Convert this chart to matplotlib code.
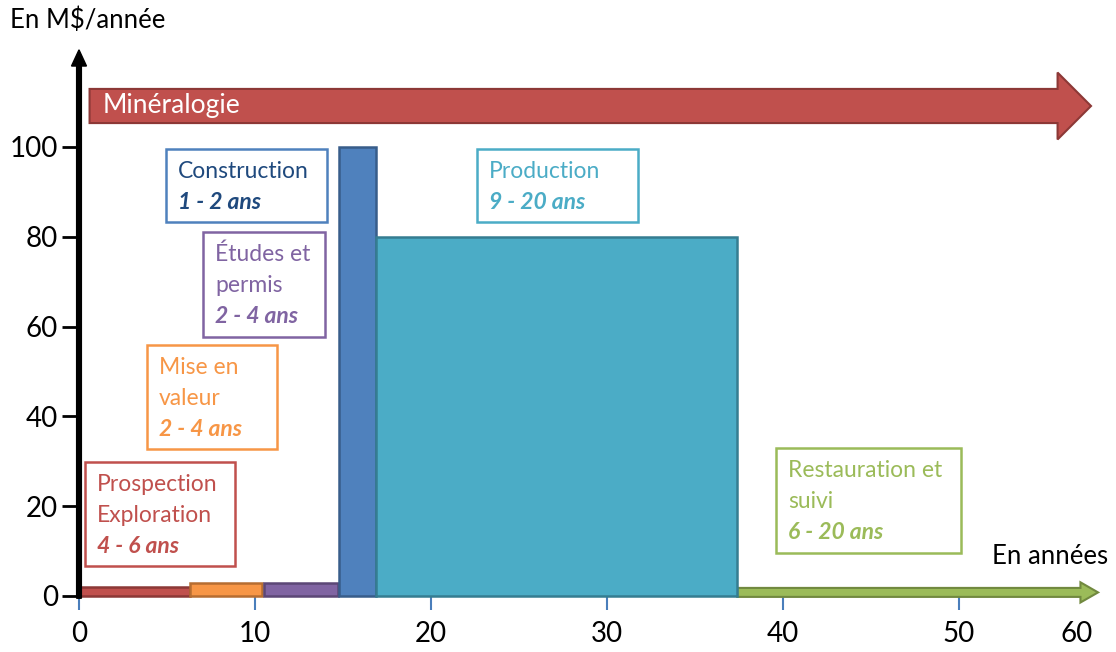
import matplotlib
matplotlib.use('Agg')
from matplotlib import pyplot as plt
from matplotlib.patches import Rectangle, FancyArrow

plt.rcParams['font.family'] = ['Lato', 'DejaVu Sans']

# phases du cycle minier (barres)
debut = [0, 6.3, 10.5, 14.8, 16.9]
largeur = [6.3, 4.1, 4.2, 2.1, 20.5]
hauteur = [2.0, 3.0, 3.0, 100, 80]
couleurs = ['#c0504d', '#f79646', '#8064a2', '#4f81bd', '#4bacc6']
bordures = ['#8c3836', '#b66d31', '#5c4776', '#385d8a', '#357d91']

# restauration (fleche verte)
resto_debut = 37.4
resto_fin = 57.9

# axes
yticks = [0, 20, 40, 60, 80, 100]
xticks = [0, 10, 20, 30, 40, 50]

# boites de texte : (x0, y0, x1, y1, lignes, duree, couleur bord, couleur texte, couleur duree)
boites = [
    (0.34, 6.7, 8.86, 29.8, 'Prospection\nExploration', '4 - 6 ans', '#c0504d', '#c0504d', '#c0504d'),
    (3.86, 32.7, 11.25, 55.9, 'Mise en\nvaleur', '2 - 4 ans', '#f79646', '#f79646', '#f79646'),
    (7.05, 57.7, 13.98, 81.1, 'Études et\npermis', '2 - 4 ans', '#8064a2', '#8064a2', '#8064a2'),
    (4.94, 83.3, 14.09, 99.6, 'Construction', '1 - 2 ans', '#4f81bd', '#1f497d', '#1f497d'),
    (22.61, 83.3, 31.76, 99.6, 'Production', '9 - 20 ans', '#4bacc6', '#4bacc6', '#4bacc6'),
    (39.6, 9.6, 50.1, 33.0, 'Restauration et\nsuivi', '6 - 20 ans', '#9bbb59', '#9bbb59', '#9bbb59'),
]


def main():
    fig = plt.figure(figsize=(11.16, 6.52), dpi=100)
    ax = fig.add_axes([79 / 1116, 56 / 652, 1 - 79 / 1116, 596 / 652])
    ax.set_xlim(0, 58.92)
    ax.set_ylim(0, 132.7)

    for s in ['top', 'right', 'left', 'bottom']:
        ax.spines[s].set_visible(False)

    # barres
    ax.bar(debut, hauteur, width=largeur, align='edge', color=couleurs,
           edgecolor=bordures, linewidth=1.8, clip_on=False, zorder=3)

    # fleche restauration
    ax.add_patch(FancyArrow(resto_debut, 0.8, resto_fin - resto_debut, 0, width=2.0,
                            head_width=4.5, head_length=1.0, length_includes_head=True,
                            color='#9bbb59', ec='#71893f', lw=1.5, clip_on=False, zorder=2))

    # fleche mineralogie
    ax.add_patch(FancyArrow(0.6, 109.1, 56.9, 0, width=7.6, head_width=14.9,
                            head_length=1.9, length_includes_head=True,
                            fc='#c0504d', ec='#8c3836', lw=1.5, zorder=2))
    ax.text(1.36, 109.1, 'Minéralogie', color='white', fontsize=19, va='center', ha='left', zorder=4)

    # axe vertical
    ax.add_patch(FancyArrow(0, -0.5, 0, 122.1, width=0.27, head_width=0.85,
                            head_length=3.6, length_includes_head=True,
                            color='black', clip_on=False, zorder=5))

    # ticks
    ax.set_yticks(yticks)
    ax.tick_params(axis='y', direction='out', length=12, width=2, color='black',
                   labelsize=20, pad=3)
    ax.set_xticks(xticks)
    ax.tick_params(axis='x', which='major', direction='out', length=10, width=1.5,
                   color='#4a7ebb', labelsize=20, pad=8)
    ax.set_xticks([56.7], ['60'], minor=True)
    ax.tick_params(axis='x', which='minor', length=0, labelsize=20, pad=18)

    # boites
    for x0, y0, x1, y1, lignes, duree, cb, ct, cd in boites:
        ax.add_patch(Rectangle((x0, y0), x1 - x0, y1 - y0, fill=True, fc='white',
                               ec=cb, lw=1.8, zorder=4))
        n = lignes.count('\n') + 1
        for i, l in enumerate(lignes.split('\n')):
            ax.text(x0 + 0.68, y1 - 5.0 - i * 6.9, l, color=ct, fontsize=16.5,
                    va='center', ha='left', zorder=5)
        ax.text(x0 + 0.68, y1 - 5.0 - n * 6.9, duree, color=cd, fontsize=16.5,
                fontweight='bold', fontstyle='italic', va='center', ha='left', zorder=5)

    # titres des axes
    ax.text(-3.9, 128.3, 'En M$/année', fontsize=18.5, va='center', ha='left', clip_on=False)
    ax.text(51.9, 8.7, 'En années', fontsize=18.5, va='center', ha='left', clip_on=False)

    fig.savefig('out.png', dpi=100)


if __name__ == '__main__':
    main()
